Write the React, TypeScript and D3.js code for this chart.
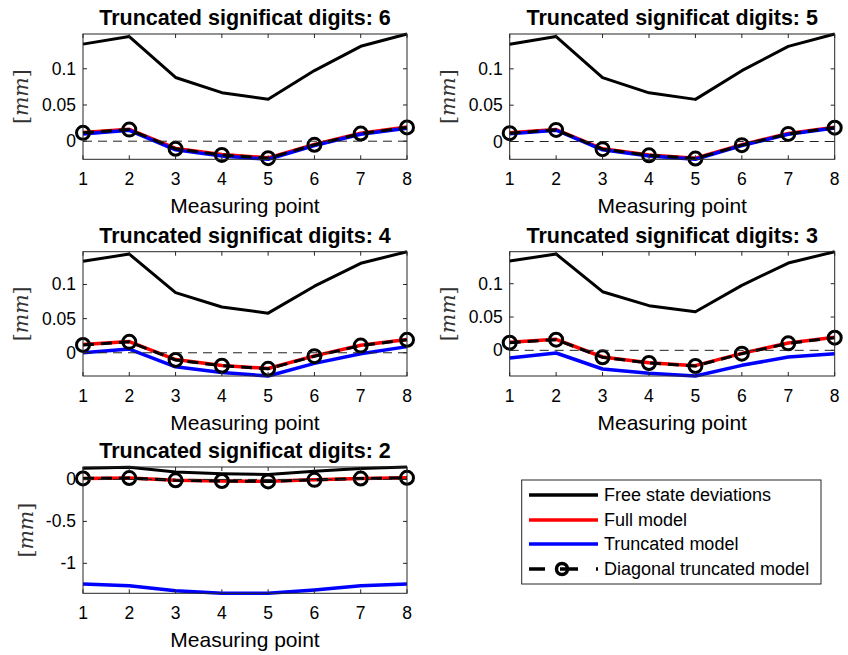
import React from "react";
import * as d3 from "d3";

const points = [1, 2, 3, 4, 5, 6, 7, 8];
const freeState = [0.134, 0.1445, 0.088, 0.067, 0.058, 0.0975, 0.131, 0.148];
const fullModel = [0.012, 0.0165, -0.01, -0.0185, -0.023, -0.0045, 0.011, 0.0195];
const diagonalModel = [0.0115, 0.016, -0.0105, -0.019, -0.0235, -0.005, 0.0105, 0.019];
const truncated6 = [0.010, 0.015, -0.012, -0.0205, -0.025, -0.006, 0.0095, 0.018];
const truncated5 = [0.0105, 0.0155, -0.0115, -0.020, -0.0245, -0.0055, 0.010, 0.0185];
const truncated4 = [0.0, 0.0055, -0.0205, -0.029, -0.034, -0.0155, -0.0015, 0.009];
const truncated3 = [-0.0115, -0.004, -0.028, -0.0345, -0.0385, -0.0225, -0.010, -0.005];
const truncated2 = [-1.246, -1.267, -1.326, -1.357, -1.357, -1.318, -1.267, -1.246];

const digits = [6, 5, 4, 3, 2];
const truncatedSeries = [truncated6, truncated5, truncated4, truncated3, truncated2];
const yTicksSmall = [0, 0.05, 0.1];
const yTickLabelsSmall = ["0", "0.05", "0.1"];
const yTicksLarge = [-1, -0.5, 0];
const yTickLabelsLarge = ["-1", "-0.5", "0"];
const legendLabels = ["Free state deviations", "Full model", "Truncated model", "Diagonal truncated model"];

const layouts = [
  { left: 83, right: 407, top: 34, bottom: 159.3 },
  { left: 509.7, right: 834.7, top: 34, bottom: 159.3 },
  { left: 83, right: 407, top: 251.7, bottom: 376 },
  { left: 509.7, right: 834.7, top: 251.7, bottom: 376 },
  { left: 83, right: 407, top: 467, bottom: 593.3 },
];

const FONT = "'Liberation Sans', Arial, Helvetica, sans-serif";
const AXC = "#262626";

function Panel({ idx }: { idx: number }) {
  const L = layouts[idx];
  const trunc = truncatedSeries[idx];
  const all = [...freeState, ...fullModel, ...diagonalModel, ...trunc];
  const x = d3.scaleLinear().domain([1, 8]).range([L.left, L.right]);
  const y = d3.scaleLinear().domain([d3.min(all)!, d3.max(all)!]).range([L.bottom, L.top]);
  const line = d3
    .line<number>()
    .x((_, i) => x(points[i]))
    .y((d) => y(d));
  const yt = idx === 4 ? yTicksLarge : yTicksSmall;
  const ytl = idx === 4 ? yTickLabelsLarge : yTickLabelsSmall;
  const clipId = `clip${idx}`;
  const tl = 4;
  const cx = (L.left + L.right) / 2;
  const cy = (L.top + L.bottom) / 2;
  return (
    <g>
      <defs>
        <clipPath id={clipId}>
          <rect x={L.left - 10} y={L.top - 10} width={L.right - L.left + 20} height={L.bottom - L.top + 20} />
        </clipPath>
      </defs>
      <rect x={L.left} y={L.top} width={L.right - L.left} height={L.bottom - L.top} fill="#fff" />
      <g clipPath={`url(#${clipId})`}>
        <path d={line(freeState)!} fill="none" stroke="#000" strokeWidth={3} strokeLinejoin="round" />
        <path d={line(fullModel)!} fill="none" stroke="#ff0000" strokeWidth={3.5} strokeLinejoin="round" />
        <path d={line(trunc)!} fill="none" stroke="#0000ff" strokeWidth={3.5} strokeLinejoin="round" />
        <path d={line(diagonalModel)!} fill="none" stroke="#000" strokeWidth={3} strokeDasharray="11,7" />
        {diagonalModel.map((v, i) => (
          <circle key={i} cx={x(points[i])} cy={y(v)} r={6.5} fill="none" stroke="#000" strokeWidth={3} />
        ))}
        <line x1={L.left} x2={L.right} y1={y(0)} y2={y(0)} stroke="#222" strokeWidth={1} strokeDasharray="9,6" />
      </g>
      <rect x={L.left} y={L.top} width={L.right - L.left} height={L.bottom - L.top} fill="none" stroke={AXC} strokeWidth={1} />
      {points.map((p) => (
        <g key={p}>
          <line x1={x(p)} x2={x(p)} y1={L.bottom} y2={L.bottom - tl} stroke={AXC} />
          <line x1={x(p)} x2={x(p)} y1={L.top} y2={L.top + tl} stroke={AXC} />
          <text x={x(p)} y={L.bottom + 26} textAnchor="middle" fontFamily={FONT} fontSize={17.5} fill="#000">
            {p}
          </text>
        </g>
      ))}
      {yt.map((t, i) => (
        <g key={t}>
          <line x1={L.left} x2={L.left + tl} y1={y(t)} y2={y(t)} stroke={AXC} />
          <line x1={L.right} x2={L.right - tl} y1={y(t)} y2={y(t)} stroke={AXC} />
          <text x={L.left - 7} y={y(t) + 6} textAnchor="end" fontFamily={FONT} fontSize={17.5} fill="#000">
            {ytl[i]}
          </text>
        </g>
      ))}
      <text x={cx} y={L.bottom + 54} textAnchor="middle" fontFamily={FONT} fontSize={21} fill="#000">
        Measuring point
      </text>
      <text x={cx} y={L.top - 9} textAnchor="middle" fontFamily={FONT} fontSize={21.5} fontWeight="bold" fill="#000">
        {`Truncated significat digits: ${digits[idx]}`}
      </text>
      <text
        transform={`translate(${idx === 4 ? L.left - 50 : L.left - 55},${cy}) rotate(-90)`}
        textAnchor="middle"
        fontFamily="'DejaVu Serif', 'Liberation Serif', serif"
        fontSize={20.5}
        fill="#333"
      >
        <tspan>[</tspan>
        <tspan fontStyle="italic">mm</tspan>
        <tspan>]</tspan>
      </text>
    </g>
  );
}

function Legend() {
  const bx = 521.7, by = 480, bw = 299.3, bh = 104;
  const rows = [495, 520, 544, 569];
  const x0 = 529, x1 = 598, tx = 604;
  return (
    <g>
      <rect x={bx} y={by} width={bw} height={bh} fill="#fff" stroke={AXC} strokeWidth={1} />
      <line x1={x0} x2={x1} y1={rows[0]} y2={rows[0]} stroke="#000" strokeWidth={3.5} />
      <line x1={x0} x2={x1} y1={rows[1]} y2={rows[1]} stroke="#ff0000" strokeWidth={3.5} />
      <line x1={x0} x2={x1} y1={rows[2]} y2={rows[2]} stroke="#0000ff" strokeWidth={3.5} />
      <line x1={x0} x2={x1} y1={rows[3]} y2={rows[3]} stroke="#000" strokeWidth={3.5} strokeDasharray="16,15,18,18,2,100" />
      <circle cx={562} cy={rows[3]} r={5.5} fill="none" stroke="#000" strokeWidth={3.5} />
      {legendLabels.map((l, i) => (
        <text key={l} x={tx} y={rows[i] + 6} fontFamily={FONT} fontSize={18} fill="#000">
          {l}
        </text>
      ))}
    </g>
  );
}

export default function App() {
  return (
    <svg width={848} height={655} style={{ position: "absolute", left: 0, top: 0, background: "#fff" }}>
      <rect width={848} height={655} fill="#fff" />
      {digits.map((_, i) => (
        <Panel key={i} idx={i} />
      ))}
      <Legend />
    </svg>
  );
}
